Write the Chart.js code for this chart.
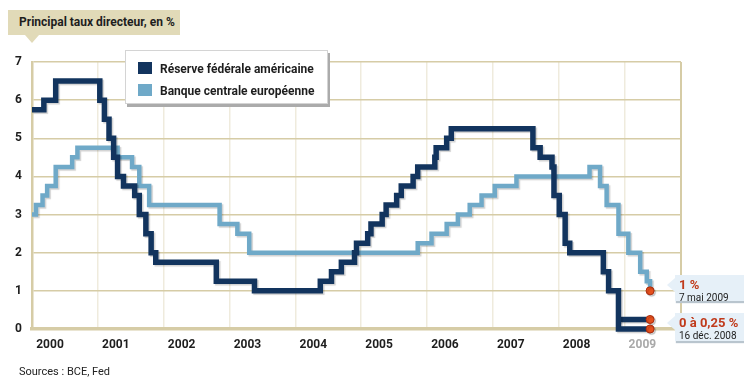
<!DOCTYPE html>
<html>
<head>
<meta charset="utf-8">
<script src="https://cdn.jsdelivr.net/npm/chart.js@4.4.1/dist/chart.umd.min.js"></script>
<style>
  body { margin: 0; background: #fff; font-family: Roboto, sans-serif; }
  #wrap { position: relative; width: 744px; height: 378px; overflow: hidden; }
  #chart { position: absolute; left: 0; top: 0; }
  .title {
    position: absolute; left: 8px; top: 10px; width: 172px; height: 25px;
    background: #e1dab8; color: #1e1e1e; font-weight: bold; font-size: 12px;
    line-height: 25px; padding-left: 11px; box-sizing: border-box; white-space: nowrap;
  }
  .title:after {
    content: ''; position: absolute; left: 17px; top: 25px;
    border-left: 7px solid transparent; border-right: 7px solid transparent;
    border-top: 8px solid #e1dab8;
  }
  .legend {
    position: absolute; left: 125px; top: 50px; width: 203px; height: 54px;
    background: #fff; border: 1px solid #d4d4d4; box-shadow: 2px 3px 0 #ababab;
    box-sizing: border-box; font-size: 12px; font-weight: bold; color: #1e1e1e;
  }
  .legend div { position: absolute; left: 12px; height: 14px; line-height: 14px; white-space: nowrap; }
  .legend i { display: inline-block; width: 14px; height: 12px; vertical-align: -1px; margin-right: 8px; }
  .note {
    position: absolute; left: 675px; width: 72px; background: #e6f0f8;
    box-shadow: 1px 2px 1px #b9c5ce; padding: 3px 0 0 4px; box-sizing: border-box; color: #222;
  }
  .note:before {
    content: ''; position: absolute; left: -8px;
    border-top: 7px solid transparent; border-bottom: 7px solid transparent;
    border-right: 8px solid #e6f0f8;
  }
  .note b { display: block; color: #c03a1b; font-size: 13px; line-height: 14px; }
  .note span { display: block; font-size: 10px; line-height: 11px; }
  .sources { position: absolute; left: 19px; top: 366px; font-size: 11px; line-height: 12px; color: #222; }
</style>
</head>
<body>
<div id="wrap">
  <canvas id="chart" width="744" height="378"></canvas>
  <div class="title">Principal taux directeur, en %</div>
  <div class="legend">
    <div style="top:11px"><i style="background:#12345e"></i>Réserve fédérale américaine</div>
    <div style="top:33px"><i style="background:#6fa9c8"></i>Banque centrale européenne</div>
  </div>
  <div class="note" style="top:275px;height:26px"><b>1 %</b><span>7 mai 2009</span></div>
  <div class="note" style="top:313px;height:28px"><b>0 à 0,25 %</b><span>16 déc. 2008</span></div>
  <div class="sources">Sources : BCE, Fed</div>
</div>
<script>
// dates are decimal years, each point is the date a new rate starts
const fedDates = [2000.00, 2000.18, 2000.36, 2001.03, 2001.10, 2001.17, 2001.24, 2001.30, 2001.39,
  2001.56, 2001.63, 2001.73, 2001.81, 2001.88, 2002.80, 2003.38, 2004.38, 2004.55, 2004.70,
  2004.90, 2004.93, 2005.10, 2005.15, 2005.32, 2005.38, 2005.54, 2005.61, 2005.79, 2005.86,
  2006.12, 2006.14, 2006.30, 2006.37, 2007.61, 2007.72, 2007.90, 2007.93, 2008.01, 2008.10,
  2008.17, 2008.68, 2008.76, 2008.91, 2009.39];
const fedRates = [5.75, 6.0, 6.5, 6.0, 5.5, 5.0, 4.5, 4.0, 3.75,
  3.5, 3.0, 2.5, 2.0, 1.75, 1.25, 1.0, 1.25, 1.5, 1.75,
  2.0, 2.25, 2.5, 2.75, 3.0, 3.25, 3.5, 3.75, 4.0, 4.25,
  4.5, 4.75, 5.0, 5.25, 4.75, 4.5, 4.25, 3.5, 3.0, 2.25,
  2.0, 1.5, 1.0, 0.0, 0.0];
const fedTopDates = [2008.91, 2009.39];
const fedTopRates = [0.25, 0.25];

const ecbDates = [2000.00, 2000.06, 2000.16, 2000.23, 2000.36, 2000.61, 2000.69, 2001.30, 2001.52,
  2001.63, 2001.78, 2002.85, 2003.12, 2003.30, 2005.86, 2006.07, 2006.30, 2006.47, 2006.65,
  2006.83, 2007.03, 2007.36, 2008.47, 2008.63, 2008.73, 2008.91, 2009.06, 2009.24, 2009.34, 2009.39];
const ecbRates = [3.0, 3.25, 3.5, 3.75, 4.25, 4.5, 4.75, 4.5, 4.25,
  3.75, 3.25, 2.75, 2.5, 2.0, 2.25, 2.5, 2.75, 3.0, 3.25,
  3.5, 3.75, 4.0, 4.25, 3.75, 3.25, 2.5, 2.0, 1.5, 1.25, 1.0];

const yearLabels = ['2000', '2001', '2002', '2003', '2004', '2005', '2006', '2007', '2008', '2009'];
const rateTicks = [0, 1, 2, 3, 4, 5, 6, 7];

const FED = '#12345e';
const ECB = '#6fa9c8';
const TAN = '#d6cca6';

const toPoints = (xs, ys) => xs.map((x, i) => ({ x, y: ys[i] }));
const lastDot = n => ctx => (ctx.dataIndex === n - 1 ? 4 : 0);

function series(xs, ys, color, width) {
  return {
    data: toPoints(xs, ys),
    borderColor: color,
    borderWidth: width,
    stepped: 'before',
    borderJoinStyle: 'miter',
    borderCapStyle: 'butt',
    pointRadius: lastDot(xs.length),
    pointHoverRadius: lastDot(xs.length),
    pointBackgroundColor: '#e5501c',
    pointBorderColor: '#a82c0e',
    pointBorderWidth: 1,
    clip: false,
  };
}

const lineShadow = {
  id: 'lineShadow',
  beforeDatasetDraw(chart) {
    const c = chart.ctx;
    c.save();
    c.shadowColor = 'rgba(0,0,0,0.18)';
    c.shadowOffsetX = 1.5;
    c.shadowOffsetY = 1.5;
    c.shadowBlur = 1;
  },
  afterDatasetDraw(chart) { chart.ctx.restore(); },
};

const rightFrame = {
  id: 'rightFrame',
  beforeDatasetsDraw(chart) {
    const { ctx, chartArea: a } = chart;
    ctx.save();
    ctx.strokeStyle = TAN;
    ctx.lineWidth = 2;
    ctx.beginPath();
    ctx.moveTo(a.right, a.top);
    ctx.lineTo(a.right, a.bottom);
    ctx.stroke();
    ctx.restore();
  },
};

const tickFont = { family: 'Roboto', weight: 'bold', size: 12 };

new Chart(document.getElementById('chart'), {
  type: 'line',
  data: {
    datasets: [
      series(fedDates, fedRates, FED, 5.5),
      series(fedTopDates, fedTopRates, FED, 5.5),
      series(ecbDates, ecbRates, ECB, 4.5),
    ],
  },
  options: {
    responsive: false,
    animation: false,
    layout: { padding: { top: 62, right: 63, bottom: 0, left: 0 } },
    plugins: { legend: { display: false }, tooltip: { enabled: false } },
    scales: {
      x: {
        type: 'linear',
        min: 2000,
        max: 2009.86,
        afterBuildTicks: s => { s.ticks = yearLabels.map(y => ({ value: +y })); },
        afterFit: s => { s.height = 49; },
        ticks: {
          callback: (v, i) => yearLabels[i],
          labelOffset: 18,
          padding: 9,
          maxRotation: 0,
          autoSkip: false,
          font: tickFont,
          color: ctx => (ctx.tick && ctx.tick.value === 2009 ? '#a9a9a9' : '#1e1e1e'),
        },
        grid: { color: '#efebdd', lineWidth: 1.5, drawTicks: false },
        border: { color: TAN, width: 3.5 },
      },
      y: {
        min: 0,
        max: 7,
        afterBuildTicks: s => { s.ticks = rateTicks.map(v => ({ value: v })); },
        afterFit: s => { s.width = 32; },
        ticks: { padding: 10, font: tickFont, color: '#1e1e1e' },
        grid: { color: TAN, lineWidth: 1.5, drawTicks: false },
        border: { color: TAN, width: 2.5 },
      },
    },
  },
  plugins: [rightFrame, lineShadow],
});
</script>
</body>
</html>
